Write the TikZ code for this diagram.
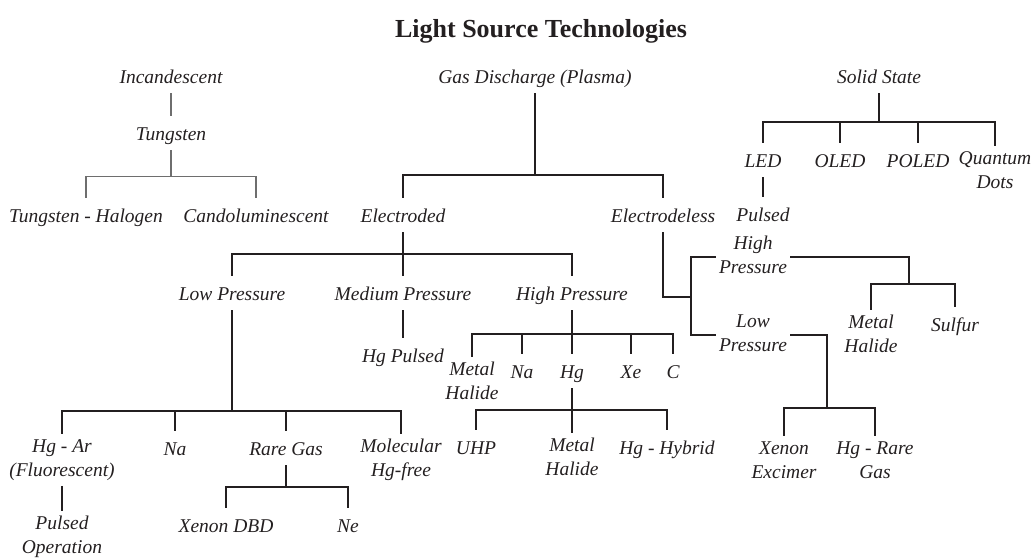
\documentclass[tikz,border=0pt]{standalone}
\usepackage{fontspec}
\setmainfont{Liberation Serif}
\usepackage{tikz}
\usetikzlibrary{positioning}
\definecolor{ink}{RGB}{35,31,32}
\definecolor{soft}{RGB}{110,110,110}
\newcommand\techstrut{\rule[-4.4pt]{0pt}{24pt}}
\tikzset{
x=1pt, y=-1pt, % one unit is one pixel of the sketch, y runs downwards
tech/.style={font=\fontsize{19.5}{24}\selectfont\itshape, text=ink, align=center,
  inner xsep=3pt, inner ysep=5pt,
  execute at begin node=\techstrut, execute at end node=\techstrut}, % every technology label
branch/.style={draw=ink, line width=2pt}, % the black tree lines
thin branch/.style={draw=soft, line width=1.4pt}, % the grey lines under Incandescent
}

\begin{document}
\begin{tikzpicture}
    \useasboundingbox (0,0) rectangle (1036,558);
    \node[text=ink, font=\fontsize{26}{30}\selectfont\bfseries] (title) at (541,31) {Light Source Technologies};

    % top level
    \node[tech] (inc) at (171,76) {Incandescent};
    \node[tech] (gas) at (535,76) {Gas Discharge (Plasma)};
    \node[tech] (solid) at (879,76) {Solid State};

    % incandescent
    \node[tech] (tung) at (171,133) {Tungsten};
    \node[tech] (tungh) at (86,215) {Tungsten - Halogen};
    \node[tech] (cando) at (256,215) {Candoluminescent};
    \draw[thin branch] (inc) -- (tung);
    \foreach \c in {tungh,cando}
      \draw[thin branch] (tung.south) -- ++(0,26) -| (\c.north);

    % gas discharge
    \node[tech] (elec) at (403,215) {Electroded};
    \node[tech] (eless) at (663,215) {Electrodeless};
    \foreach \c in {elec,eless}
      \draw[branch] (gas.south) -- ++(0,82) -| (\c.north);

    \node[tech] (lowp) at (232,293) {Low Pressure};
    \node[tech] (medp) at (403,293) {Medium Pressure};
    \node[tech] (highp) at (572,293) {High Pressure};
    \foreach \c in {lowp,medp,highp}
      \draw[branch] (elec.south) -- ++(0,22) -| (\c.north);

    \node[tech] (hgpulsed) at (403,355) {Hg Pulsed};
    \draw[branch] (medp) -- (hgpulsed);

    \node[tech] (hgar) at (62,460) {Hg - Ar\\(Fluorescent)};
    \node[tech] (nal) at (175,448) {Na};
    \node[tech] (raregas) at (286,448) {Rare Gas};
    \node[tech] (molec) at (401,460) {Molecular\\Hg-free};
    \foreach \c in {hgar,nal,raregas,molec}
      \draw[branch] (lowp.south) -- ++(0,101) -| (\c.north);

    \node[tech] (pulsop) at (62,537) {Pulsed\\Operation};
    \draw[branch] (hgar) -- (pulsop);

    \node[tech] (xdbd) at (226,525) {Xenon DBD};
    \node[tech] (ne) at (348,525) {Ne};
    \foreach \c in {xdbd,ne}
      \draw[branch] (raregas.south) -- ++(0,22) -| (\c.north);

    \node[tech] (mhh) at (472,383) {Metal\\Halide};
    \node[tech] (nah) at (522,371) {Na};
    \node[tech] (hg) at (572,371) {Hg};
    \node[tech] (xe) at (631,371) {Xe};
    \node[tech] (carbon) at (673,371) {C};
    \foreach \c in {mhh,nah,hg,xe,carbon}
      \draw[branch] (highp.south) -- ++(0,24) -| (\c.north);

    \node[tech] (uhp) at (476,447) {UHP};
    \node[tech] (mhg) at (572,459) {Metal\\Halide};
    \node[tech] (hghyb) at (667,447) {Hg - Hybrid};
    \foreach \c in {uhp,mhg,hghyb}
      \draw[branch] (hg.south) -- ++(0,22) -| (\c.north);

    % electrodeless
    \node[tech] (hpe) at (753,257) {High\\Pressure};
    \node[tech] (lpe) at (753,335) {Low\\Pressure};
    \coordinate (elbow) at (691,297);
    \draw[branch] (eless.south) |- (elbow);
    \draw[branch] (hpe.west) -| (elbow) |- (lpe.west);

    \node[tech] (mhe) at (871,336) {Metal\\Halide};
    \node[tech] (sulfur) at (955,324) {Sulfur};
    \coordinate (hpbar) at (909,284);
    \draw[branch] (hpe.east) -| (hpbar) -| (mhe.north);
    \draw[branch] (hpbar) -| (sulfur.north);

    \node[tech] (xenon) at (784,462) {Xenon\\Excimer};
    \node[tech] (hgrare) at (875,462) {Hg - Rare\\Gas};
    \coordinate (lpbar) at (827,408);
    \draw[branch] (lpe.east) -| (lpbar) -| (xenon.north);
    \draw[branch] (lpbar) -| (hgrare.north);

    % solid state
    \node[tech] (led) at (763,160) {LED};
    \node[tech] (oled) at (840,160) {OLED};
    \node[tech] (poled) at (918,160) {POLED};
    \node[tech] (qdots) at (995,172) {Quantum\\Dots};
    \foreach \c in {led,oled,poled,qdots}
      \draw[branch] (solid.south) -- ++(0,29) -| (\c.north);

    \node[tech] (pulsed) at (763,214) {Pulsed};
    \draw[branch] (led) -- (pulsed);
\end{tikzpicture}
\end{document}
